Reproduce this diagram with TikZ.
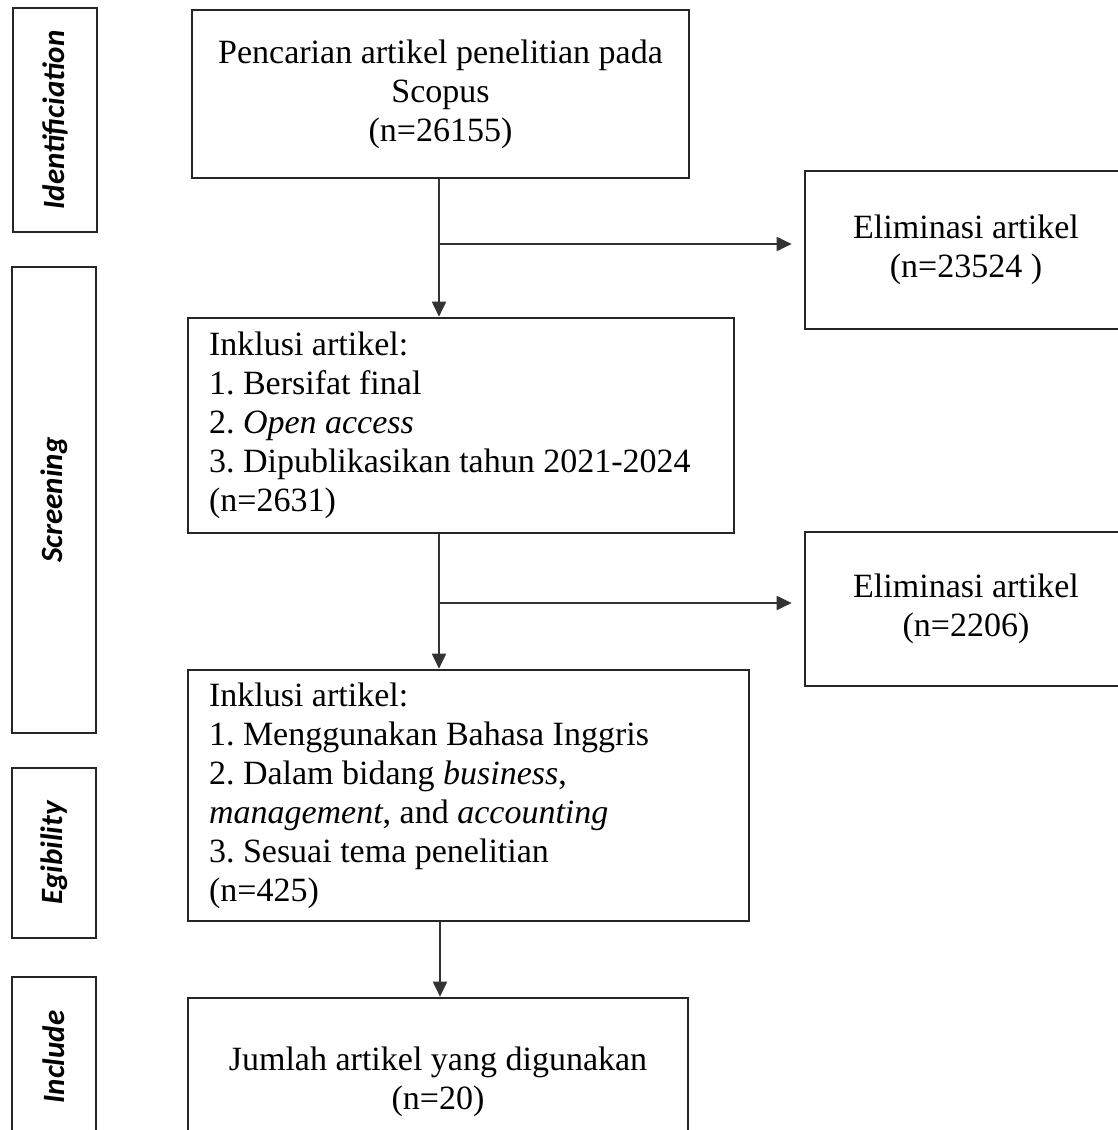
\documentclass[tikz,border=0pt]{standalone}
\usepackage{fontspec}
\setmainfont{Liberation Serif}
\newfontfamily\lblfont{Carlito}
\usetikzlibrary{arrows.meta}
\frenchspacing
\begin{document}
\begin{tikzpicture}[x=1pt,y=-1pt,
  every node/.style={inner sep=0pt},
  boxc/.style={draw=black!85, line width=2.6pt, align=center,
    font=\fontsize{34}{39}\selectfont\frenchspacing},
  boxl/.style={draw=black!85, line width=2.6pt, align=flush left,
    font=\fontsize{34}{39}\selectfont\frenchspacing, inner xsep=21pt},
  lbl/.style={draw=black!85, line width=2.6pt, minimum width=84pt,
    font=\lblfont\fontsize{31}{36}\selectfont\bfseries\itshape},
  arr/.style={draw=black!80, line width=1.8pt,
    -{Triangle[length=15pt,width=14pt]}}]
\useasboundingbox (0,0) rectangle (1118,1130);

% phase labels
\node[lbl, minimum height=224pt] (idl) at (55,120) {\rotatebox{90}{Identificiation}};
\node[lbl, minimum height=466pt] (scl) at (54,500) {\rotatebox{90}{Screening}};
\node[lbl, minimum height=170pt] (egl) at (54,853) {\rotatebox{90}{Egibility}};
\node[lbl, minimum height=160pt] (inl) at (54,1057) {\rotatebox{90}{Include}};

% main boxes
\node[boxc, minimum width=497pt, minimum height=168pt] (b1) at (440.5,94)
  {Pencarian artikel penelitian pada\\Scopus\\(n=26155)};
\node[boxc, minimum width=322pt, minimum height=158pt] (e1) at (966,250)
  {Eliminasi artikel\\(n=23524 )};
\node[boxl, text width=504pt, minimum height=215pt] (b2) at (461,425.5)
  {Inklusi artikel:\\1. Bersifat final\\2. \textit{Open access}\\3. Dipublikasikan tahun 2021-2024\\(n=2631)};
\node[boxc, minimum width=322pt, minimum height=154pt] (e2) at (966,609)
  {Eliminasi artikel\\(n=2206)};
\node[boxl, text width=519pt, minimum height=251pt] (b3) at (468.5,795.5)
  {Inklusi artikel:\\1. Menggunakan Bahasa Inggris\\2. Dalam bidang \textit{business},\\\textit{management}, and \textit{accounting}\\3. Sesuai tema penelitian\\(n=425)};
\node[boxc, minimum width=500pt, minimum height=168pt] (b4) at (438,1082)
  {Jumlah artikel yang digunakan\\(n=20)};

% connectors
\coordinate (j1) at (439,244);
\coordinate (j2) at (439,603);
\coordinate (j3) at (440,960);
\draw[arr] (b1.south -| j1) -- (b2.north -| j1);
\draw[arr] (j1) -- ([xshift=-12pt]e1.west |- j1);
\draw[arr] (b2.south -| j2) -- (b3.north -| j2);
\draw[arr] (j2) -- ([xshift=-12pt]e2.west |- j2);
\draw[arr] (b3.south -| j3) -- (b4.north -| j3);
\end{tikzpicture}
\end{document}
